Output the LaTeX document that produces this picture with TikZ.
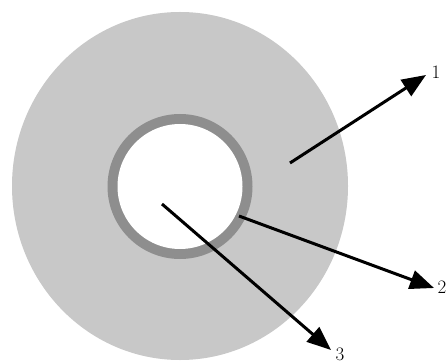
\documentclass[tikz,border=0pt]{standalone}
\usepackage{fontspec}
\setmainfont{Latin Modern Roman}
\usetikzlibrary{arrows.meta}
\definecolor{discgray}{RGB}{200,200,200}
\definecolor{ringgray}{RGB}{142,142,142}
\tikzset{
  ptr/.style={line width=3pt,-{Triangle[length=24pt,width=19pt]}},
  lbl/.style={inner sep=0pt,font=\fontsize{19}{19}\selectfont}
}
\begin{document}
\begin{tikzpicture}[x=1pt,y=-1pt]
\useasboundingbox[fill=white] (0,0) rectangle (446,363);
\fill[discgray] (180,186) ellipse [x radius=168,y radius=174];
\fill[ringgray] (180,186.5) circle [radius=72.5];
\fill[white] (180,186.5) circle [radius=62.5];
\coordinate (s1) at (290,163);
\coordinate (t1) at (426,75);
\coordinate (s2) at (239,216);
\coordinate (t2) at (434,288);
\coordinate (s3) at (162,204);
\coordinate (t3) at (331,350);
\node[lbl] (l1) at (436,72) {1};
\node[lbl] (l2) at (442,287) {2};
\node[lbl] (l3) at (340,354) {3};
\draw[ptr] (s1) -- (t1);
\draw[ptr] (s2) -- (t2);
\draw[ptr] (s3) -- (t3);
\end{tikzpicture}
\end{document}
